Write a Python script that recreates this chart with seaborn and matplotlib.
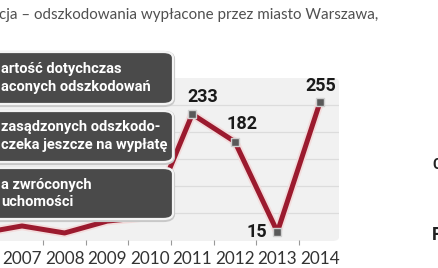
import matplotlib
matplotlib.use("Agg")
import matplotlib.pyplot as plt
import matplotlib.patheffects as pe
from matplotlib.patches import FancyBboxPatch
import seaborn as sns
import pandas as pd

# ---- data ----
years = [2006, 2007, 2008, 2009, 2010, 2011, 2012, 2013, 2014]
values = [12, 26, 13, 35, 43, 233, 182, 15, 255]
labelled_years = [2011, 2012, 2013, 2014]
tick_years = [2007, 2008, 2009, 2010, 2011, 2012, 2013, 2014]
title_text = "cja \u2013 odszkodowania wyp\u0142acone przez miasto Warszawa,"
box_lines = [
    ["arto\u015b\u0107 dotychczas", "aconych odszkodowa\u0144"],
    ["zas\u0105dzonych odszkodo-", "czeka jeszcze na wyp\u0142at\u0119"],
    ["a zwr\u00f3conych", "uchomo\u015bci"],
]

df = pd.DataFrame({"year": years, "value": values})
df_lab = df[df["year"].isin(labelled_years)]

W, H = 439, 268
sns.set_theme(style="white")
plt.rcParams["font.family"] = ["Lato", "DejaVu Sans"]

fig = plt.figure(figsize=(W / 100, H / 100), dpi=100)
fig.patch.set_facecolor("white")


def fx(px):
    return px / W


def fy(py):
    return 1 - py / H


# grey rounded background (behind the axes)
bg = FancyBboxPatch((fx(-20), fy(241)), fx(359), (241 - 78) / H,
                    boxstyle="round,pad=0,rounding_size=0.015",
                    transform=fig.transFigure, facecolor="#f1f1f1",
                    edgecolor="none", zorder=-1)
fig.patches.append(bg)

# plot area in pixels: x 0..339, y 78..240
ax = fig.add_axes([fx(0), fy(240), fx(339), (240 - 78) / H])
ax.set_zorder(1)
ax.set_facecolor("none")
ax.patch.set_alpha(0)
for s in ax.spines.values():
    s.set_visible(False)

ax.set_xlim(2006.483, 2014.447)
ax.set_ylim(0, 300)
for gy in [50, 100, 150, 200, 250]:
    ax.axhline(gy, color="#dcdcdc", lw=0.9, zorder=1)

sns.lineplot(data=df, x="year", y="value", ax=ax, color="#9b1a2e", lw=3.6,
             zorder=3, legend=False,
             path_effects=[pe.Stroke(linewidth=6.2, foreground="#f3dcdc"), pe.Normal()])
sns.scatterplot(data=df_lab, x="year", y="value", ax=ax, marker="s", s=28,
                color="#595959", edgecolor="#cfcfcf", linewidth=1.0, zorder=4,
                legend=False)

offsets = {2011: (10, 17), 2012: (7, 18), 2013: (-21, 0), 2014: (1, 16)}
for yr, v in zip(df_lab["year"], df_lab["value"]):
    dx, dy = offsets[yr]
    ax.annotate(str(v), (yr, v), xytext=(dx * 0.72, dy * 0.72),
                textcoords="offset points", ha="center", va="center",
                fontsize=13, fontweight="bold", color="#1a1a1a",
                family=["Roboto", "DejaVu Sans"], zorder=5)

ax.set_xticks(tick_years)
ax.set_xticklabels([str(t) for t in tick_years])
ax.tick_params(axis="x", which="major", length=0, pad=8, labelsize=12.3,
               labelcolor="#333333")
ax.set_xticks([t + 0.5 for t in tick_years[:-1]], minor=True)
ax.tick_params(axis="x", which="minor", length=3.5, width=0.8, color="#999999",
               direction="out", pad=0, bottom=True)
ax.set_yticks([])
ax.set_xlabel("")
ax.set_ylabel("")

# left boxes
boxes_px = [(52, 104), (111, 162), (168, 219)]
for (top, bot), lines in zip(boxes_px, box_lines):
    shadow = FancyBboxPatch((fx(-30), fy(bot + 1)), fx(203), (bot - top) / H,
                            boxstyle="round,pad=0,rounding_size=0.022",
                            transform=fig.transFigure, facecolor="none",
                            edgecolor="#c8c8c8", lw=3.0, zorder=6)
    fig.patches.append(shadow)
    box = FancyBboxPatch((fx(-30), fy(bot)), fx(203), (bot - top) / H,
                         boxstyle="round,pad=0,rounding_size=0.022",
                         transform=fig.transFigure, facecolor="#4a4a4a",
                         edgecolor="#f4f4f4", lw=1.6, zorder=7)
    fig.patches.append(box)
    mid = (top + bot) / 2
    for k, line in enumerate(lines):
        fig.text(fx(1), fy(mid - 9 + 18 * k), line, ha="left", va="center",
                 fontsize=10.5, fontweight="bold", color="white",
                 family=["Roboto", "DejaVu Sans"], zorder=8)

# title line (cropped)
fig.text(fx(-1), fy(15), title_text, ha="left", va="center", fontsize=10.9,
         color="#505050")

# fragments of neighbouring column
fig.text(fx(432), fy(165), "C", ha="left", va="center", fontsize=10,
         fontweight="bold", color="#222222", family=["Roboto", "DejaVu Sans"])
fig.text(fx(432), fy(235), "F", ha="left", va="center", fontsize=13,
         fontweight="bold", color="#222222", family=["Roboto", "DejaVu Sans"])

fig.savefig("out.png", dpi=100, facecolor="white")
